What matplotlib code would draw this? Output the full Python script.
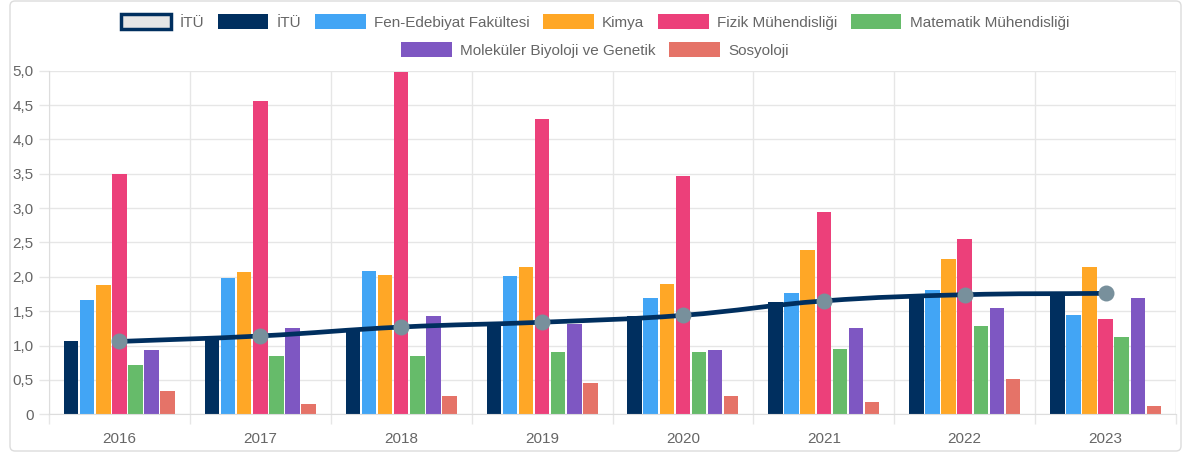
import numpy as np
import matplotlib
matplotlib.use("Agg")
import matplotlib.pyplot as plt
from matplotlib.patches import Patch, FancyBboxPatch
from matplotlib.path import Path
from matplotlib.patches import PathPatch
from matplotlib.transforms import IdentityTransform

plt.rcParams['font.family'] = ['Liberation Sans', 'DejaVu Sans']

# data
years = ["2016", "2017", "2018", "2019", "2020", "2021", "2022", "2023"]
itu_line = [1.06, 1.14, 1.27, 1.34, 1.44, 1.65, 1.74, 1.76]
itu = [1.06, 1.12, 1.25, 1.32, 1.43, 1.63, 1.72, 1.76]
fen_edebiyat = [1.66, 1.98, 2.09, 2.01, 1.69, 1.76, 1.81, 1.45]
kimya = [1.88, 2.07, 2.02, 2.14, 1.89, 2.39, 2.26, 2.15]
fizik = [3.50, 4.56, 4.98, 4.30, 3.47, 2.95, 2.55, 1.39]
matematik = [0.72, 0.85, 0.85, 0.91, 0.90, 0.95, 1.28, 1.13]
molekuler = [0.94, 1.25, 1.43, 1.31, 0.94, 1.25, 1.55, 1.69]
sosyoloji = [0.34, 0.15, 0.26, 0.46, 0.27, 0.18, 0.51, 0.12]

bar_names = ["İTÜ", "Fen-Edebiyat Fakültesi", "Kimya", "Fizik Mühendisliği",
             "Matematik Mühendisliği", "Moleküler Biyoloji ve Genetik", "Sosyoloji"]
bar_values = [itu, fen_edebiyat, kimya, fizik, matematik, molekuler, sosyoloji]
bar_colors = ["#002f5f", "#42a5f5", "#ffa726", "#ec407a", "#66bb6a", "#7e57c2", "#e57368"]

navy = "#002f5f"
txt = "#666666"
grid = "#e6e6e6"

fig = plt.figure(figsize=(11.83, 4.54), dpi=100)
ax = fig.add_axes([49/1183, 1-414.3/454, 1127/1183, 343.6/454])

x = np.arange(len(years))
n = len(bar_values)
slot = 0.8 / n
for i in range(n):
    ax.bar(x + (i - (n-1)/2) * slot, bar_values[i], width=slot*0.9,
           color=bar_colors[i], zorder=2)

ax.set_xlim(-0.5, len(years) - 0.5)
ax.set_ylim(0, 5)

# smooth line like chart.js (tension 0.4), control points in pixel space
pts = ax.transData.transform(np.column_stack([x, itu_line]))
t = 0.4
verts = [pts[0]]
codes = [Path.MOVETO]
cps = []
for k in range(len(pts)):
    prev = pts[k-1] if k > 0 else pts[k]
    nxt = pts[k+1] if k < len(pts)-1 else pts[k]
    d01 = np.hypot(*(pts[k]-prev))
    d12 = np.hypot(*(nxt-pts[k]))
    s = d01 + d12
    fa = t*d01/s if s else 0
    fb = t*d12/s if s else 0
    cps.append((pts[k] - fa*(nxt-prev), pts[k] + fb*(nxt-prev)))
for k in range(1, len(pts)):
    verts += [cps[k-1][1], cps[k][0], pts[k]]
    codes += [Path.CURVE4]*3
inv = ax.transData.inverted()
path = Path(inv.transform(np.array(verts)), codes)
ax.add_patch(PathPatch(path, facecolor='none', edgecolor=navy, lw=3.4, zorder=4,
                       capstyle='round', joinstyle='round'))
ax.plot(x, itu_line, 'o', ms=11.5, color="#78909c", mec='none', zorder=5)

# axes styling
yt = np.arange(0, 5.01, 0.5)
ax.set_yticks(yt)
ax.set_yticklabels(["0" if v == 0 else ("%.1f" % v).replace(".", ",") for v in yt])
ax.set_xticks(x)
ax.set_xticklabels(years)
ax.set_xticks(np.arange(-0.5, len(years)), minor=True)
ax.tick_params(axis='x', which='major', length=0, pad=13, labelsize=11, labelcolor=txt)
ax.tick_params(axis='x', which='minor', length=7, width=1, color=grid)
ax.tick_params(axis='y', length=7, width=1, color=grid, pad=4, labelsize=11, labelcolor=txt)
ax.grid(True, axis='y', color=grid, lw=1, zorder=0)
ax.grid(True, axis='x', which='minor', color=grid, lw=1, zorder=0)
for sp in ['top', 'right']:
    ax.spines[sp].set_visible(False)
ax.spines['left'].set_color("#dddddd")
ax.spines['bottom'].set_color("#dddddd")
ax.axvline(len(years) - 0.5, color=grid, lw=1, zorder=0)

# legend, two centered rows
h_line = Patch(facecolor="#e6e6e6", edgecolor=navy, lw=2.5)
handles = [h_line] + [Patch(facecolor=c) for c in bar_colors]
labels = ["İTÜ"] + bar_names
kw = dict(frameon=False, fontsize=11, handlelength=3.3, handleheight=1.1,
          handletextpad=0.55, columnspacing=0.9, labelcolor=txt, borderaxespad=0)
fig.legend(handles[:6], labels[:6], ncol=6, loc='center', bbox_to_anchor=(0.503, 1-22/454), **kw)
fig.legend(handles[6:], labels[6:], ncol=2, loc='center', bbox_to_anchor=(0.503, 1-50/454), **kw)

# card border
card = FancyBboxPatch((10, 3), 1171, 450, boxstyle="round,pad=0,rounding_size=5",
                      transform=IdentityTransform(), facecolor='none',
                      edgecolor="#dcdcdc", lw=1)
fig.add_artist(card)

fig.savefig("out.png", dpi=100)
